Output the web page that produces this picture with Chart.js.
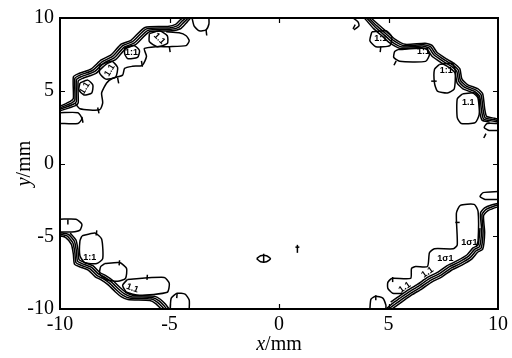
<!DOCTYPE html>
<html><head><meta charset="utf-8">
<script src="https://cdn.jsdelivr.net/npm/chart.js@4/dist/chart.umd.min.js"></script>
<style>html,body{margin:0;padding:0;background:#fff;}canvas{display:block;}</style>
</head><body>
<canvas id="c" width="512" height="358"></canvas>
<script>
// ---- axis ticks ----
const xTicks = [-10, -5, 0, 5, 10];
const yTicks = [-10, -5, 0, 5, 10];

// ---- contour lines (x, y in mm) ----
// top-left band
const tlBandA = [[-10,3.93],[-9.53,4.27],[-9.39,4.47],[-9.39,5.96],[-9.16,6.17],[-8.57,6.51],[-8.12,7.12],[-7.67,7.46],[-7.21,8.2],[-6.76,8.47],[-6.12,9.35],[-5.08,9.42],[-4.72,9.56],[-4.49,9.9],[-4.4,10]];
const tlBandB = [[-10,3.83],[-9.46,4.17],[-9.32,4.37],[-9.32,5.86],[-9.09,6.07],[-8.5,6.41],[-8.05,7.02],[-7.6,7.36],[-7.14,8.1],[-6.69,8.37],[-6.05,9.25],[-5.01,9.32],[-4.65,9.46],[-4.42,9.8],[-4.24,10]];
const tlBandC = [[-10,3.73],[-9.39,4.07],[-9.25,4.27],[-9.25,5.76],[-9.02,5.97],[-8.43,6.31],[-7.98,6.92],[-7.53,7.26],[-7.07,8.0],[-6.62,8.27],[-5.98,9.15],[-4.94,9.22],[-4.58,9.36],[-4.35,9.7],[-4.14,10]];
const tlBandD = [[-10,3.62],[-9.32,3.96],[-9.17,4.16],[-9.17,5.66],[-8.95,5.86],[-8.36,6.2],[-7.9,6.82],[-7.45,7.16],[-7.0,7.9],[-6.55,8.17],[-5.91,9.05],[-4.87,9.12],[-4.5,9.26],[-4.27,9.6],[-4.04,10]];
const tlInner = [[-9.32,4.17],[-9.09,3.76],[-8.19,3.69],[-8.05,4.17],[-8.1,4.85],[-7.87,5.53],[-7.6,5.86],[-7.14,6.07],[-7.05,6.54],[-6.69,6.68],[-6.24,6.75],[-6.05,7.36],[-6.15,7.9],[-5.6,8.03],[-5.01,8.03],[-4.24,8.1],[-4.1,8.44],[-4.24,8.78],[-4.56,8.98],[-5.15,9.05]];
const tlEdgeLoop = [[-10,3.49],[-9.18,3.49],[-9.0,3.08],[-9.18,2.75],[-10,2.75]];
const tlLoop1 = [[-9.09,5.53],[-8.73,5.73],[-8.5,5.39],[-8.55,4.85],[-8.91,4.71],[-9.14,5.05],[-9.09,5.53]];
const tlLoop2 = [[-8.19,6.75],[-7.64,7.02],[-7.37,6.61],[-7.46,5.93],[-7.91,5.8],[-8.19,6.2],[-8.19,6.75]];
const tlLoop3 = [[-7.05,7.97],[-6.6,8.1],[-6.37,7.76],[-6.46,7.29],[-6.92,7.22],[-7.05,7.56],[-7.05,7.97]];
const tlLoop4 = [[-5.92,8.92],[-5.46,9.12],[-5.1,8.78],[-5.1,8.24],[-5.56,8.03],[-5.92,8.37],[-5.92,8.92]];
const topCurl = [[-3.97,10],[-3.88,9.46],[-3.65,9.12],[-3.33,9.19],[-3.2,9.59],[-3.2,10]];

// top-right band
const trBandA = [[4.2,10],[4.54,9.55],[4.95,9.01],[5.31,8.53],[5.76,8.19],[6.67,8.26],[6.99,8.12],[7.21,7.65],[7.67,7.17],[8.03,6.84],[8.26,6.5],[8.35,5.82],[8.62,5.41],[9.07,5.14],[9.3,4.8],[9.39,3.78],[9.48,3.24],[9.84,3.11],[10,3.05]];
const trBandB = [[4.1,10],[4.47,9.46],[4.88,8.92],[5.24,8.44],[5.69,8.1],[6.6,8.17],[6.92,8.03],[7.14,7.56],[7.6,7.08],[7.96,6.75],[8.19,6.41],[8.28,5.73],[8.55,5.32],[9.0,5.05],[9.23,4.71],[9.32,3.69],[9.41,3.15],[9.77,3.02],[10,2.95]];
const trBandC = [[4.0,10],[4.4,9.37],[4.81,8.83],[5.17,8.35],[5.62,8.01],[6.53,8.08],[6.85,7.94],[7.07,7.47],[7.53,6.99],[7.89,6.66],[8.12,6.32],[8.21,5.64],[8.48,5.23],[8.93,4.96],[9.16,4.62],[9.25,3.6],[9.34,3.06],[9.7,2.93],[10,2.86]];
const trBandD = [[3.9,10],[4.32,9.27],[4.73,8.73],[5.09,8.25],[5.54,7.91],[6.45,7.98],[6.77,7.84],[6.99,7.37],[7.45,6.89],[7.81,6.56],[8.04,6.22],[8.13,5.54],[8.4,5.13],[8.85,4.86],[9.08,4.52],[9.17,3.5],[9.27,2.98],[9.62,2.84]];
const trBracket = [[3.38,10],[3.61,9.73],[3.65,9.46],[3.42,9.19]];
const trLoop1 = [[4.24,9.05],[4.88,9.12],[5.15,8.71],[5.06,8.1],[4.42,8.03],[4.15,8.44],[4.24,9.05]];
const trLoop2 = [[5.42,7.83],[6.69,7.9],[6.87,7.49],[6.69,7.02],[5.51,7.02],[5.24,7.29],[5.28,7.69],[5.42,7.83]];
const trLoop3 = [[7.32,6.81],[7.91,6.88],[8.05,6.34],[8.0,5.12],[7.69,4.85],[7.23,4.98],[7.1,5.53],[7.1,6.47],[7.32,6.81]];
const trLoop4 = [[8.37,4.78],[8.96,4.85],[9.14,4.44],[9.14,3.36],[8.96,2.81],[8.32,2.75],[8.14,3.15],[8.14,4.44],[8.37,4.78]];
const trEdgeCurl = [[10,2.75],[9.5,2.75],[9.37,2.47],[9.59,2.27],[10,2.27]];

// bottom-left band
const blBandA = [[-10,-4.95],[-9.75,-5.08],[-9.48,-5.56],[-9.39,-6.24],[-9.34,-6.91],[-9.07,-7.12],[-8.71,-7.32],[-8.39,-7.79],[-8.12,-8.0],[-7.8,-8.34],[-7.48,-8.81],[-7.21,-9.15],[-6.9,-9.35],[-5.9,-9.42],[-5.63,-9.63],[-5.42,-9.94],[-5.36,-10]];
const blBandB = [[-10,-4.85],[-9.68,-4.98],[-9.41,-5.46],[-9.32,-6.14],[-9.27,-6.81],[-9.0,-7.02],[-8.64,-7.22],[-8.32,-7.69],[-8.05,-7.9],[-7.73,-8.24],[-7.41,-8.71],[-7.14,-9.05],[-6.83,-9.25],[-5.83,-9.32],[-5.56,-9.53],[-5.33,-9.86],[-5.24,-10]];
const blBandC = [[-10,-4.75],[-9.61,-4.88],[-9.34,-5.36],[-9.25,-6.04],[-9.2,-6.71],[-8.93,-6.92],[-8.57,-7.12],[-8.25,-7.59],[-7.98,-7.8],[-7.66,-8.14],[-7.34,-8.61],[-7.07,-8.95],[-6.76,-9.15],[-5.76,-9.22],[-5.49,-9.43],[-5.26,-9.76],[-5.13,-10]];
const blBandD = [[-9.54,-4.78],[-9.27,-5.26],[-9.18,-5.94],[-9.13,-6.61],[-8.86,-6.82],[-8.5,-7.02],[-8.18,-7.49],[-7.91,-7.7],[-7.59,-8.04],[-7.27,-8.51],[-7.0,-8.85],[-6.69,-9.05],[-5.69,-9.12],[-5.42,-9.33],[-5.19,-9.66],[-5.02,-10]];
const blEdgeLoop = [[-10,-3.83],[-9.27,-3.83],[-9.0,-4.17],[-9.09,-4.58],[-9.46,-4.71],[-10,-4.71]];
const blLoop1 = [[-9.0,-4.98],[-8.41,-4.78],[-8.1,-5.19],[-8.05,-6.54],[-8.32,-6.88],[-8.87,-6.81],[-9.09,-6.34],[-9.09,-5.32],[-9.0,-4.98]];
const blLoop2 = [[-7.96,-6.88],[-7.28,-6.81],[-6.96,-7.22],[-7.01,-7.9],[-7.37,-8.1],[-7.91,-7.97],[-8.19,-7.56],[-8.14,-7.08],[-7.96,-6.88]];
const blLoop3 = [[-6.92,-7.97],[-5.24,-7.83],[-5.01,-8.24],[-5.1,-8.85],[-6.37,-9.05],[-6.96,-8.85],[-7.14,-8.37],[-6.92,-7.97]];
const blArch = [[-4.97,-10],[-4.92,-9.25],[-4.65,-8.92],[-4.29,-8.98],[-4.1,-9.39],[-4.1,-10]];

// bottom-right band
const brBandA = [[5.15,-10],[5.31,-9.83],[5.63,-9.49],[6.08,-9.02],[6.53,-8.61],[6.99,-8.13],[7.44,-7.79],[7.89,-7.32],[8.35,-6.98],[8.8,-6.57],[9.07,-6.1],[9.3,-5.9],[9.39,-4.74],[9.34,-3.59],[9.53,-3.25],[9.84,-3.05],[10,-2.98]];
const brBandB = [[5.01,-10],[5.24,-9.73],[5.56,-9.39],[6.01,-8.92],[6.46,-8.51],[6.92,-8.03],[7.37,-7.69],[7.82,-7.22],[8.28,-6.88],[8.73,-6.47],[9.0,-6.0],[9.23,-5.8],[9.32,-4.64],[9.27,-3.49],[9.46,-3.15],[9.77,-2.95],[10,-2.85]];
const brBandC = [[4.9,-10],[5.17,-9.63],[5.49,-9.29],[5.94,-8.82],[6.39,-8.41],[6.85,-7.93],[7.3,-7.59],[7.75,-7.12],[8.21,-6.78],[8.66,-6.37],[8.93,-5.9],[9.16,-5.7],[9.25,-4.54],[9.2,-3.39],[9.39,-3.05],[9.7,-2.85],[10,-2.75]];
const brBandD = [[5.1,-9.53],[5.42,-9.19],[5.87,-8.72],[6.32,-8.31],[6.78,-7.83],[7.23,-7.49],[7.68,-7.02],[8.14,-6.68],[8.59,-6.27],[8.86,-5.8],[9.09,-5.6],[9.18,-4.44]];
const brArch = [[4.15,-10],[4.2,-9.32],[4.42,-9.12],[4.74,-9.25],[4.88,-9.73],[4.88,-10]];
const brStairs = [[5.65,-8.92],[5.19,-8.92],[4.97,-8.58],[4.97,-8.17],[5.15,-7.9],[6.01,-7.9],[6.05,-7.22],[6.24,-7.08],[6.78,-7.08],[6.87,-6.14],[7.1,-5.86],[7.96,-5.86],[8.14,-5.59],[8.1,-3.42],[8.28,-2.88],[8.91,-2.81],[9.09,-3.29],[9.09,-5.32],[9.0,-5.73]];
const brEdgeCurl = [[10,-1.93],[9.32,-2.0],[9.18,-2.27],[9.41,-2.47],[10,-2.47]];

// centre features
const centreOval = [[-1.02,-6.54],[-0.84,-6.34],[-0.57,-6.34],[-0.39,-6.54],[-0.57,-6.75],[-0.84,-6.75],[-1.02,-6.54]];
const centreOvalStem = [[-0.7,-6.2],[-0.7,-6.81]];
const centreMark = [[0.84,-5.59],[0.84,-6.14]];
const centreMarkBar = [[0.75,-5.75],[0.93,-5.75]];

// short label stubs along contours
const stubs = [
  [[-9.0,3.2],[-8.95,2.8]], [[-8.28,3.85],[-8.22,3.45]], [[-7.37,5.9],[-7.32,5.5]], [[-6.28,7.05],[-6.24,6.65]],
  [[-5.01,8.05],[-4.97,7.65]], [[-3.33,9.2],[-3.3,8.8]],
  [[4.65,8.05],[4.62,7.65]], [[5.25,6.75],[5.35,7.05]], [[6.95,5.66],[7.2,5.66]], [[9.35,1.75],[9.45,2.05]], [[3.38,9.25],[3.48,9.55]],
  [[-9.64,-3.85],[-9.64,-4.2]], [[-8.32,-4.6],[-8.35,-4.95]], [[-7.28,-6.65],[-7.3,-7.0]], [[-6.01,-7.65],[-6.03,-8.0]], [[-4.65,-8.9],[-4.67,-9.25]],
  [[4.42,-9.05],[4.42,-9.4]], [[5.19,-7.8],[5.19,-8.15]], [[8.05,-4.05],[8.25,-4.05]]
];

const contours = [tlBandA, tlBandB, tlBandC, tlBandD, tlInner, tlEdgeLoop, tlLoop1, tlLoop2, tlLoop3, tlLoop4, topCurl,
  trBandA, trBandB, trBandC, trBandD, trBracket, trLoop1, trLoop2, trLoop3, trLoop4, trEdgeCurl,
  blBandA, blBandB, blBandC, blBandD, blEdgeLoop, blLoop1, blLoop2, blLoop3, blArch,
  brBandA, brBandB, brBandC, brBandD, brArch, brStairs, brEdgeCurl,
  centreOval, centreOvalStem, centreMark, centreMarkBar, ...stubs];

// contour level labels
const labelText = ["1.1","1.1","1:1","1.1","1:1","1:1","1:1","1.1","1:1","1.1","1.1","1.1","1σ1","1σ1"];
const labelX = [-8.87,-7.73,-6.73,-5.46,4.65,6.6,7.64,8.64,-8.64,-6.69,5.74,6.78,7.6,8.69];
const labelY = [5.19,6.41,7.63,8.58,8.58,7.69,6.41,4.17,-6.47,-8.58,-8.51,-7.49,-6.54,-5.46];
const labelAngle = [-60,-60,0,45,0,0,0,0,0,20,-35,-35,0,0];

const serif = "'Liberation Serif','Times New Roman',serif";

const framePlugin = {
  id: 'frame',
  afterDatasetsDraw(chart) {
    const {ctx, chartArea: a, scales: {x, y}} = chart;
    ctx.save();
    ctx.fillStyle = '#000';
    ctx.font = "bold 9px 'Liberation Sans', Arial, sans-serif";
    ctx.textAlign = 'center'; ctx.textBaseline = 'middle';
    labelText.forEach((t, i) => {
      const px = x.getPixelForValue(labelX[i]), py = y.getPixelForValue(labelY[i]);
      ctx.save(); ctx.translate(px, py); ctx.rotate(labelAngle[i] * Math.PI / 180);
      ctx.fillStyle = '#000'; ctx.fillText(t, 0, 0); ctx.restore();
    });
    ctx.strokeStyle = '#000'; ctx.lineWidth = 2;
    ctx.strokeRect(a.left, a.top, a.right - a.left, a.bottom - a.top);
    ctx.lineWidth = 1.2;
    const L = 5;
    xTicks.slice(1, -1).forEach(v => {
      const px = Math.round(x.getPixelForValue(v)) + 0.5;
      ctx.beginPath(); ctx.moveTo(px, a.bottom); ctx.lineTo(px, a.bottom - L);
      ctx.moveTo(px, a.top); ctx.lineTo(px, a.top + L); ctx.stroke();
    });
    yTicks.slice(1, -1).forEach(v => {
      const py = Math.round(y.getPixelForValue(v)) + 0.5;
      ctx.beginPath(); ctx.moveTo(a.left, py); ctx.lineTo(a.left + L, py);
      ctx.moveTo(a.right, py); ctx.lineTo(a.right - L, py); ctx.stroke();
    });
    ctx.fillStyle = '#000';
    ctx.textBaseline = 'alphabetic';
    const drawTitle = (cx, cy, rot) => {
      ctx.save(); ctx.translate(cx, cy); ctx.rotate(rot);
      ctx.font = "italic 20px " + serif; const w1 = ctx.measureText(rot ? 'y' : 'x').width;
      ctx.font = "20px " + serif; const w2 = ctx.measureText('/mm').width;
      const s = -(w1 + w2) / 2;
      ctx.textAlign = 'left';
      ctx.font = "italic 20px " + serif; ctx.fillText(rot ? 'y' : 'x', s, 6);
      ctx.font = "20px " + serif; ctx.fillText('/mm', s + w1, 6);
      ctx.restore();
    };
    drawTitle((a.left + a.right) / 2, 344, 0);
    drawTitle(24, (a.top + a.bottom) / 2, -Math.PI / 2);
    ctx.restore();
  }
};

new Chart(document.getElementById('c'), {
  type: 'scatter',
  data: {
    datasets: contours.map((c, i) => ({
      data: c.map(([px, py]) => ({x: px, y: py})),
      showLine: true, borderColor: '#000', borderWidth: 1.5,
      pointRadius: 0, tension: 0.2, fill: false
    }))
  },
  options: {
    responsive: false, animation: false, devicePixelRatio: 1,
    layout: {padding: {left: 0, right: 11, top: 14, bottom: 0}},
    plugins: {legend: {display: false}, tooltip: {enabled: false}},
    scales: {
      x: {
        type: 'linear', min: -10, max: 10,
        afterBuildTicks: s => { s.ticks = xTicks.map(v => ({value: v})); },
        afterFit: s => { s.height = 49; },
        grid: {display: false, drawTicks: false},
        border: {display: false},
        ticks: {color: '#000', font: {family: serif, size: 20}, padding: 4, maxRotation: 0}
      },
      y: {
        type: 'linear', min: -10, max: 10,
        afterBuildTicks: s => { s.ticks = yTicks.map(v => ({value: v})); },
        afterFit: s => { s.width = 60; },
        grid: {display: false, drawTicks: false},
        border: {display: false},
        ticks: {color: '#000', font: {family: serif, size: 20}, padding: 6}
      }
    }
  },
  plugins: [framePlugin]
});
</script>
</body></html>
